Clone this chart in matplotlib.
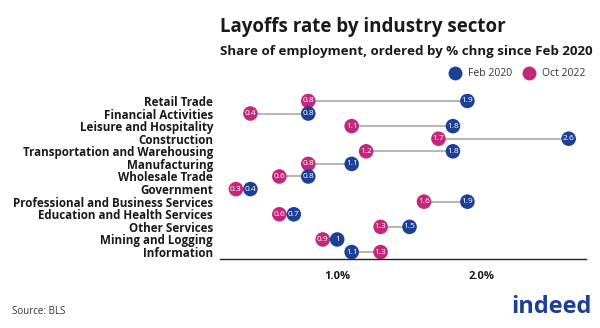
import matplotlib.pyplot as plt
from matplotlib.lines import Line2D

plt.rcParams['font.family'] = ['Open Sans', 'DejaVu Sans']

# datos
sectores = ['Retail Trade', 'Financial Activities', 'Leisure and Hospitality',
            'Construction', 'Transportation and Warehousing', 'Manufacturing',
            'Wholesale Trade', 'Government', 'Professional and Business Services',
            'Education and Health Services', 'Other Services',
            'Mining and Logging', 'Information']
feb_2020 = [1.9, 0.8, 1.8, 2.6, 1.8, 1.1, 0.8, 0.4, 1.9, 0.7, 1.5, 1.0, 1.1]
oct_2022 = [0.8, 0.4, 1.1, 1.7, 1.2, 0.8, 0.6, 0.3, 1.6, 0.6, 1.3, 0.9, 1.3]
etiquetas_feb = ['1.9', '0.8', '1.8', '2.6', '1.8', '1.1', '0.8', '0.4', '1.9', '0.7', '1.5', '1', '1.1']
etiquetas_oct = ['0.8', '0.4', '1.1', '1.7', '1.2', '0.8', '0.6', '0.3', '1.6', '0.6', '1.3', '0.9', '1.3']
ticks_x = [1.0, 2.0]
ticks_lbl = ['1.0%', '2.0%']

azul = '#1c3f98'
magenta = '#c2277a'
gris = '#a9a9a9'

fig = plt.figure(figsize=(6, 3.28), dpi=100)
ax = fig.add_axes([0.3667, 0.2104, 0.61, 0.503])

n = len(sectores)
ys = [n - 1 - i for i in range(n)]

# lineas entre puntos
ax.hlines(ys, oct_2022, feb_2020, color=gris, lw=1.2, zorder=1)

ax.scatter(oct_2022, ys, s=110, color=magenta, edgecolors='none', zorder=2)
ax.scatter(feb_2020, ys, s=110, color=azul, edgecolors='none', zorder=3)

for x, y, t in zip(oct_2022, ys, etiquetas_oct):
    ax.text(x, y, t, color='white', fontsize=6, ha='center', va='center', zorder=4)
for x, y, t in zip(feb_2020, ys, etiquetas_feb):
    ax.text(x, y, t, color='white', fontsize=6, ha='center', va='center', zorder=4)

ax.set_xlim(0.19, 2.72)
ax.set_ylim(-0.55, n - 0.45)
ax.set_yticks(ys)
ax.set_yticklabels(sectores, fontsize=8.4, fontweight='bold', color='#1a1a1a')
ax.set_xticks(ticks_x)
ax.set_xticklabels(ticks_lbl, fontsize=8, fontweight='bold', color='#1a1a1a')
ax.tick_params(axis='both', length=0)
ax.tick_params(axis='x', pad=9)
ax.tick_params(axis='y', pad=5)

for lado in ['top', 'right', 'left']:
    ax.spines[lado].set_visible(False)
ax.spines['bottom'].set_color('#222222')
ax.spines['bottom'].set_linewidth(1.0)

# titulos
fig.text(220 / 600, 1 - 27 / 328, 'Layoffs rate by industry sector',
         fontsize=13.5, fontweight='bold', color='#1a1a1a', va='center')
fig.text(220 / 600, 1 - 51 / 328, 'Share of employment, ordered by % chng since Feb 2020',
         fontsize=9.6, fontweight='bold', color='#1a1a1a', va='center')

# leyenda manual
yl = 1 - 73 / 328
fig.add_artist(Line2D([455 / 600], [yl], marker='o', markersize=10, color=azul,
                      markeredgewidth=0, transform=fig.transFigure))
fig.text(468 / 600, yl, 'Feb 2020', fontsize=7.5, color='#333333', va='center')
fig.add_artist(Line2D([529 / 600], [yl], marker='o', markersize=10, color=magenta,
                      markeredgewidth=0, transform=fig.transFigure))
fig.text(542 / 600, yl, 'Oct 2022', fontsize=7.5, color='#333333', va='center')

fig.text(12 / 600, 1 - 311 / 328, 'Source: BLS', fontsize=7, color='#333333', va='center')
fig.text(592 / 600, 1 - 307 / 328, 'indeed', fontsize=17, fontweight='bold',
         color='#1c3f98', ha='right', va='center')

fig.savefig('out.png', dpi=100)
